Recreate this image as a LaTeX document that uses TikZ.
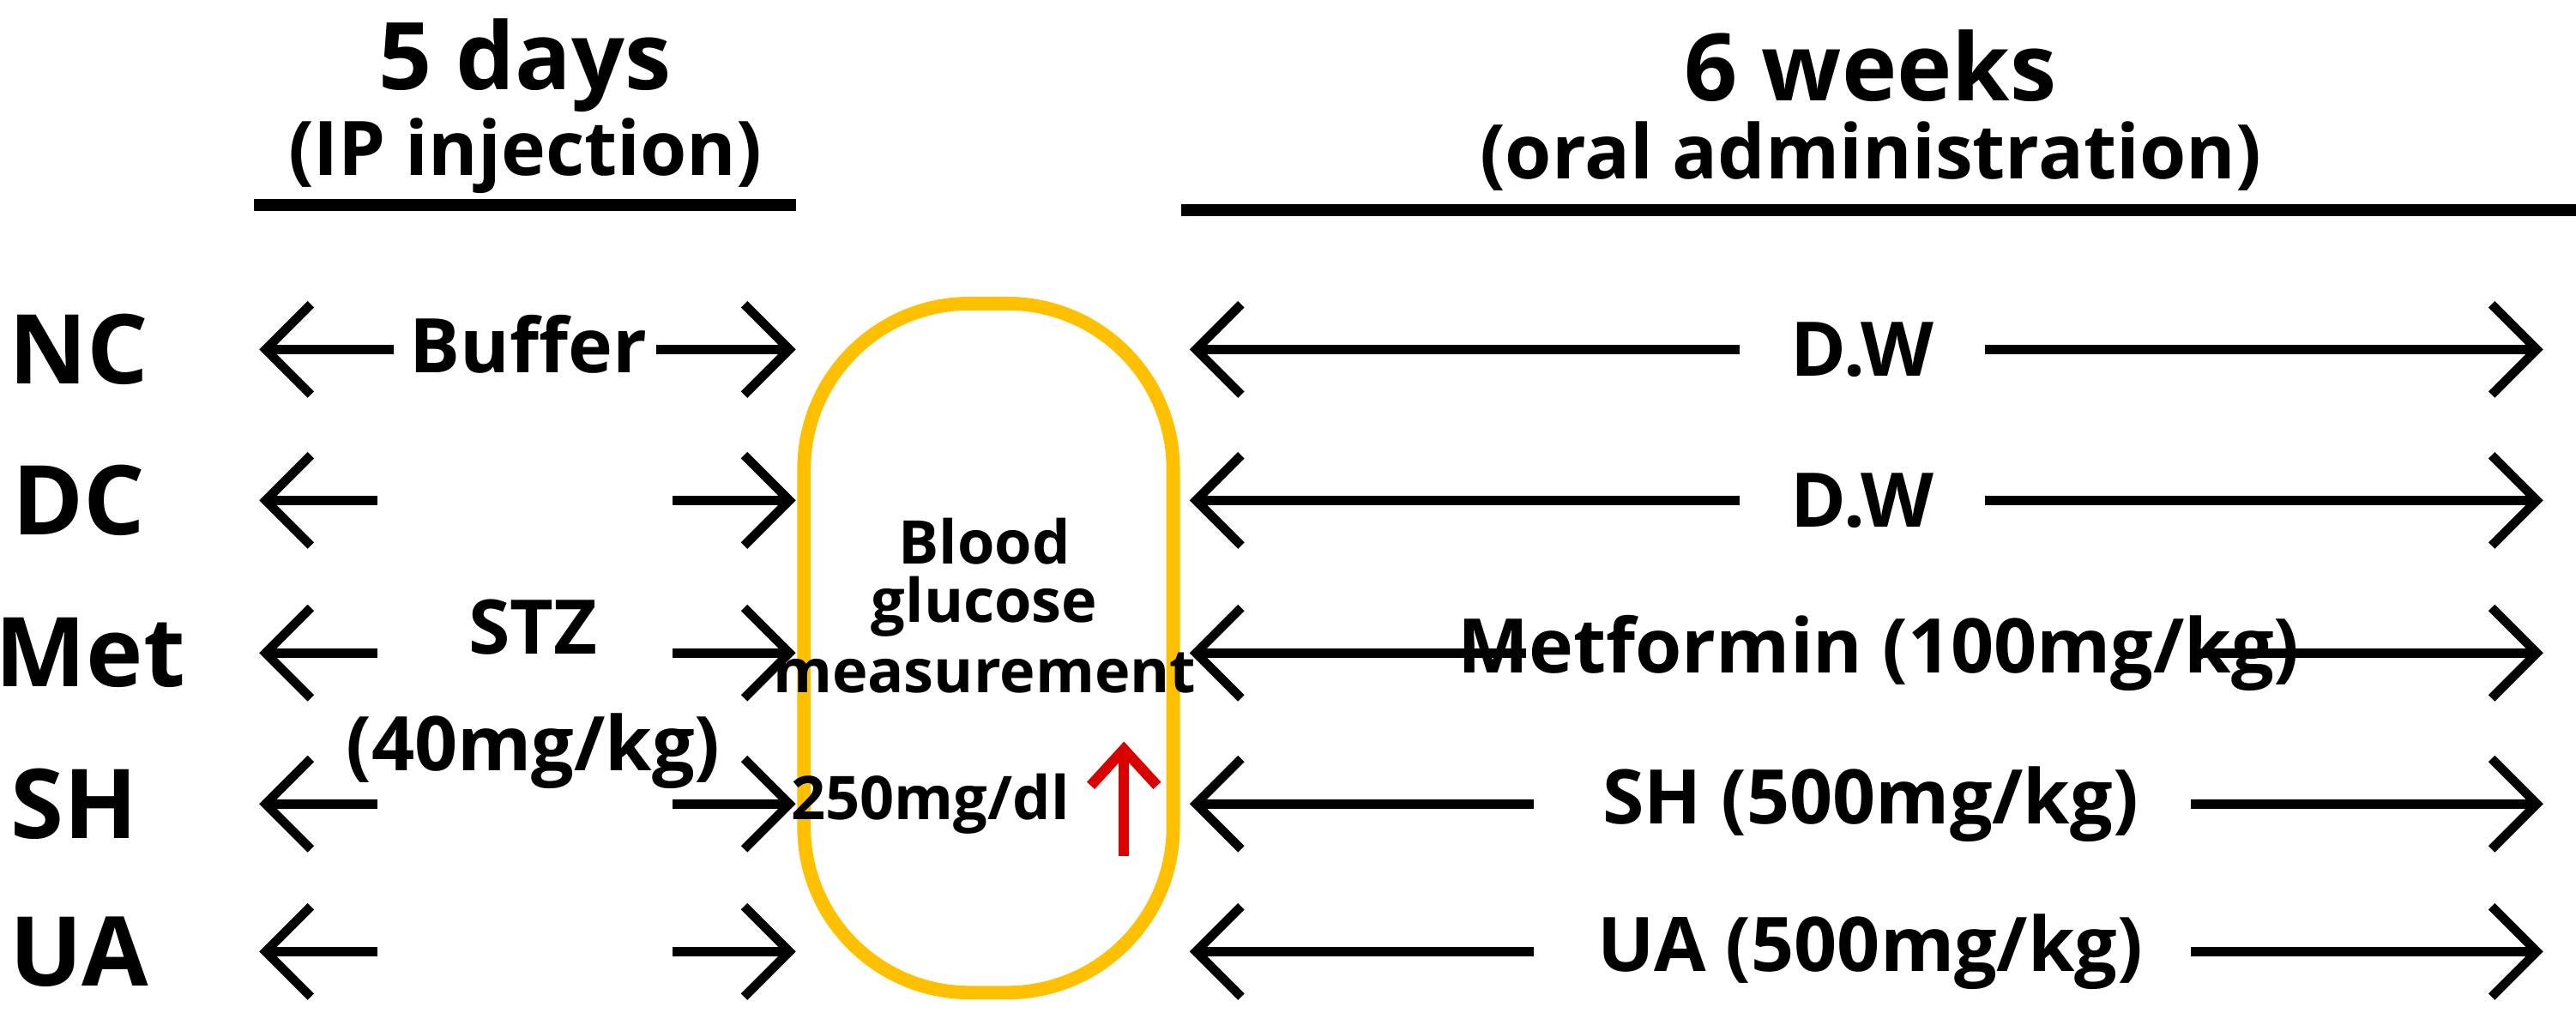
\documentclass[tikz,border=0pt]{standalone}
\usepackage{fontspec}
\setmainfont{Open Sans}
\usetikzlibrary{arrows.meta}
\definecolor{gold}{HTML}{FFC000}
\begin{document}
\begin{tikzpicture}[x=0.01913cm,y=-0.01913cm,
  arr/.style={line width=3pt,-{Straight Barb[length=15pt,width=30pt,line width=3pt]}},
  grp/.style={font=\bfseries\fontsize{32}{36}\selectfont},
  lab/.style={font=\bfseries\fontsize{25}{30}\selectfont},
  hd/.style={font=\bfseries\fontsize{31}{36}\selectfont},
  sub/.style={font=\bfseries\fontsize{25}{30}\selectfont},
  bx/.style={font=\bfseries\fontsize{20}{24}\selectfont}]
\useasboundingbox (0,0) rectangle (1570,621);
\node[hd] (h1) at (320,40) {5 days};
\node[sub] (s1) at (320,95) {(IP injection)};
\node[hd] (h2) at (1140,40) {6 weeks};
\node[sub] (s2) at (1140,95) {(oral administration)};
\coordinate (l1a) at (155,125); \coordinate (l1b) at (485,125);
\coordinate (l2a) at (720,128); \coordinate (l2b) at (2970,128);
\draw[line width=4pt] (l1a) -- (l1b);
\draw[line width=4pt] (l2a) -- (l2b);
\draw[gold,line width=4.5pt,rounded corners=55pt] (490,185) rectangle (715,605);
\node[bx] (b1) at (600,330) {Blood};
\node[bx] (b2) at (600,370) {glucose};
\node[bx] (b3) at (600,410) {measurement};
\node[bx] (b4) at (567,490) {250mg/dl};
\coordinate (ra) at (685,522); \coordinate (rb) at (685,452);
\draw[red!85!black,line width=3.5pt,-{Straight Barb[length=12pt,width=22pt,line width=3.5pt]}] (ra) -- (rb);
\node[grp] (nc) at (48,213) {NC};
\node[grp] (dc) at (48,305) {DC};
\node[grp] (met) at (55,398) {Met};
\node[grp] (sh) at (45,490) {SH};
\node[grp] (ua) at (48,580) {UA};
\node[lab] (buf) at (322,210) {Buffer};
\node[lab] (stz) at (325,382) {STZ};
\node[lab] (dose) at (325,458) {(40mg/kg)};
% left arrows
\coordinate (a1) at (240,213); \coordinate (a1h) at (158,213);
\coordinate (a2) at (400,213); \coordinate (a2h) at (485,213);
\draw[arr] (a1) -- (a1h); \draw[arr] (a2) -- (a2h);
\foreach \y/\n in {305/a,398/b,490/c,580/d}{
  \coordinate (L\n) at (230,\y); \coordinate (Lh\n) at (158,\y);
  \coordinate (R\n) at (410,\y); \coordinate (Rh\n) at (485,\y);
  \draw[arr] (L\n) -- (Lh\n); \draw[arr] (R\n) -- (Rh\n);
}
% right section
\foreach \y/\lx/\t/\tx/\rx/\n in {213/1060/{D.W}/1135/1210/p, 305/1060/{D.W}/1135/1210/q, 398/930/{Metformin (100mg{/}kg)}/1145/1335/r, 490/935/{SH (500mg{/}kg)}/1140/1335/s, 580/935/{UA (500mg{/}kg)}/1140/1335/t}{
  \node[lab] (T\n) at (\tx,\y) {\t};
  \coordinate (P\n) at (\lx,\y); \coordinate (Ph\n) at (725,\y);
  \coordinate (Q\n) at (\rx,\y); \coordinate (Qh\n) at (1550,\y);
  \draw[arr] (P\n) -- (Ph\n); \draw[arr] (Q\n) -- (Qh\n);
}
\end{tikzpicture}
\end{document}
